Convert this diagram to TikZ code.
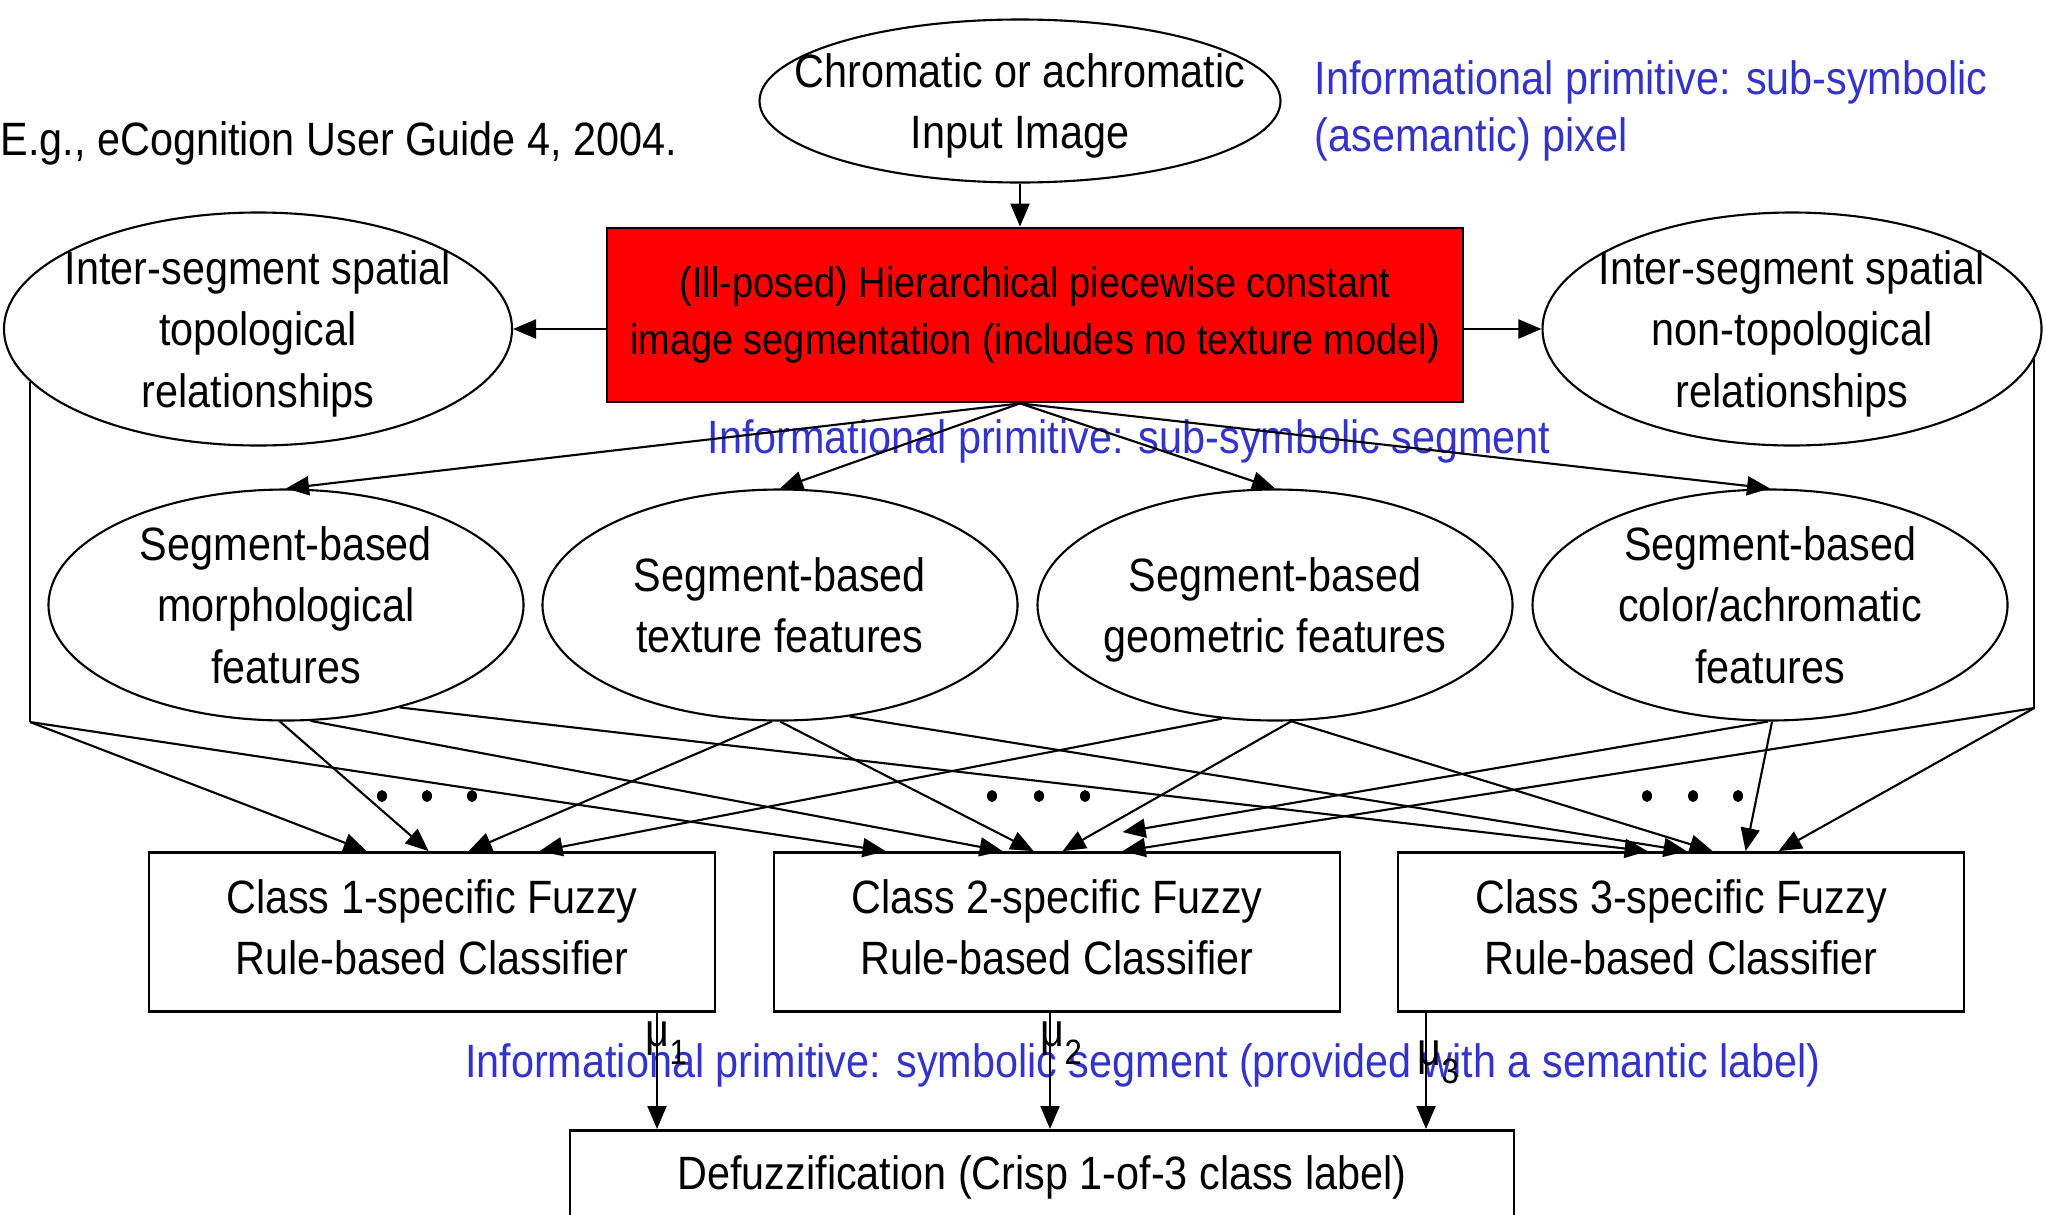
\documentclass[tikz,border=0pt]{standalone}
\usepackage{fontspec}
\setmainfont{Liberation Sans}[FakeStretch=0.885]
\usepackage{tikz}
\usetikzlibrary{shapes.geometric,arrows.meta}
\definecolor{primblue}{RGB}{51,51,204}

\begin{document}
\begin{tikzpicture}[x=0.1mm,y=-0.1mm,
    font=\fontsize{13.3pt}{17.4pt}\selectfont,
    every node/.style={align=center,inner sep=0pt},
    oval/.style={ellipse,draw,line width=0.6pt,inner sep=-1.6cm,text depth=0pt,
      minimum width=4.75cm,minimum height=2.31cm},
    classbox/.style={rectangle,draw,line width=0.8pt,text depth=2.8pt,
      minimum width=5.66cm,minimum height=1.59cm},
    prim/.style={text=primblue},
    link/.style={line width=0.6pt,-{Triangle[length=2.3mm,width=1.9mm]}},
    wire/.style={line width=0.6pt}]
    \clip (0,0) rectangle (2046,1214);

    \node[oval,minimum width=5.21cm,minimum height=1.63cm] (img) at (1020,101)
        {Chromatic or achromatic\\Input Image};
    \node[anchor=west] (ref) at (0,143) {E.g., eCognition User Guide 4, 2004.};
    \node[prim,anchor=west,align=left,font=\fontsize{13.3pt}{16pt}\selectfont]
        (pixlab) at (1314,111) {Informational primitive: sub-symbolic\\(asemantic) pixel};

    \node[draw,fill=red,line width=0.8pt,minimum width=8.56cm,minimum height=1.74cm,
        font=\fontsize{12.2pt}{16pt}\selectfont] (seg) at (1035,315)
        {(Ill-posed) Hierarchical piecewise constant\\image segmentation (includes no texture model)};
    \node[oval,minimum width=5.08cm,minimum height=2.33cm] (topo) at (258,329)
        {Inter-segment spatial\\topological\\relationships};
    \node[oval,minimum width=4.99cm,minimum height=2.33cm] (ntopo) at (1792,329)
        {Inter-segment spatial\\non-topological\\relationships};
    \node[prim] (seglab) at (1129,441) {Informational primitive: sub-symbolic segment};

    \node[oval] (morph) at (286,605) {Segment-based\\morphological\\features};
    \node[oval] (tex) at (780,605) {Segment-based\\texture features};
    \node[oval] (geo) at (1275,605) {Segment-based\\geometric features};
    \node[oval] (col) at (1770,605) {Segment-based\\color/achromatic\\features};

    \node[classbox] (c1) at (432,932) {Class 1-specific Fuzzy\\Rule-based Classifier};
    \node[classbox] (c2) at (1057,932) {Class 2-specific Fuzzy\\Rule-based Classifier};
    \node[classbox] (c3) at (1681,932) {Class 3-specific Fuzzy\\Rule-based Classifier};

    \node[draw,line width=0.8pt,anchor=north,minimum width=9.44cm,inner ysep=2.35mm,
        text height=3.6mm,text depth=10mm] (defuz) at (1042,1129)
        {Defuzzification (Crisp 1-of-3 class label)};
    \node[prim] (symlab) at (1143,1065)
        {Informational primitive: symbolic segment (provided with a semantic label)};

    \node[anchor=base west] (mu1) at (645,1046) {μ\raisebox{-1.8mm}{\fontsize{10pt}{12pt}\selectfont 1}};
    \node[anchor=base west] (mu2) at (1040,1046) {μ\raisebox{-1.8mm}{\fontsize{10pt}{12pt}\selectfont 2}};
    \node[anchor=base west] (mu3) at (1417,1065) {μ\raisebox{-1.8mm}{\fontsize{10pt}{12pt}\selectfont 3}};

    \draw[link] (img) -- (img |- seg.north);
    \draw[link] (seg.west |- topo) -- (topo);
    \draw[link] (seg.east |- ntopo) -- (ntopo);
    \coordinate (fan) at (img |- seg.south);
    \foreach \f in {morph,tex,geo,col}
        \draw[link] (fan) -- (\f.north);

    \coordinate (lc) at (topo.193.5 |- 0,722);
    \coordinate (rc) at (ntopo.-7 |- 0,708);
    \draw[wire] (topo.193.5) -- (lc);
    \draw[wire] (ntopo.-7) -- (rc);

    \draw[link] (lc) -- ([xshift=21.9mm]c1.north west);
    \draw[link] (lc) -- ([xshift=11.3mm]c2.north west);
    \draw[link] (morph.-93) -- ([xshift=28.1mm]c1.north west);
    \draw[link] (morph.-78) -- ([xshift=23mm]c2.north west);
    \draw[link] (morph.-42) -- ([xshift=25.1mm]c3.north west);
    \draw[link] (tex.-94) -- ([xshift=32.1mm]c1.north west);
    \draw[link] (tex.-90) -- ([xshift=26.1mm]c2.north west);
    \draw[link] (tex.-58) -- ([xshift=29mm]c3.north west);
    \draw[link] (geo.-115) -- ([xshift=39.2mm]c1.north west);
    \draw[link] (geo.-82) -- ([xshift=29mm]c2.north west);
    \draw[link] (geo.-82) -- ([xshift=31.6mm]c3.north west);
    \draw[link] (col.-91) -- ([xshift=35mm,yshift=1.9mm]c2.north west);
    \draw[link] (col.-89) -- ([xshift=34.9mm]c3.north west);
    \draw[link] (rc) -- ([xshift=35mm]c2.north west);
    \draw[link] (rc) -- ([xshift=38.2mm]c3.north west);

    \foreach \b/\s in {c1/22.5mm,c2/-0.7mm,c3/-25.5mm}
        \draw[link] ([xshift=\s]\b.south) -- ([xshift=\s]\b.south |- defuz.north);

    \foreach \x in {382,427,472,992,1039,1085,1647,1693,1738}
        \fill (\x,796) ellipse (0.5mm and 0.6mm);
\end{tikzpicture}
\end{document}
